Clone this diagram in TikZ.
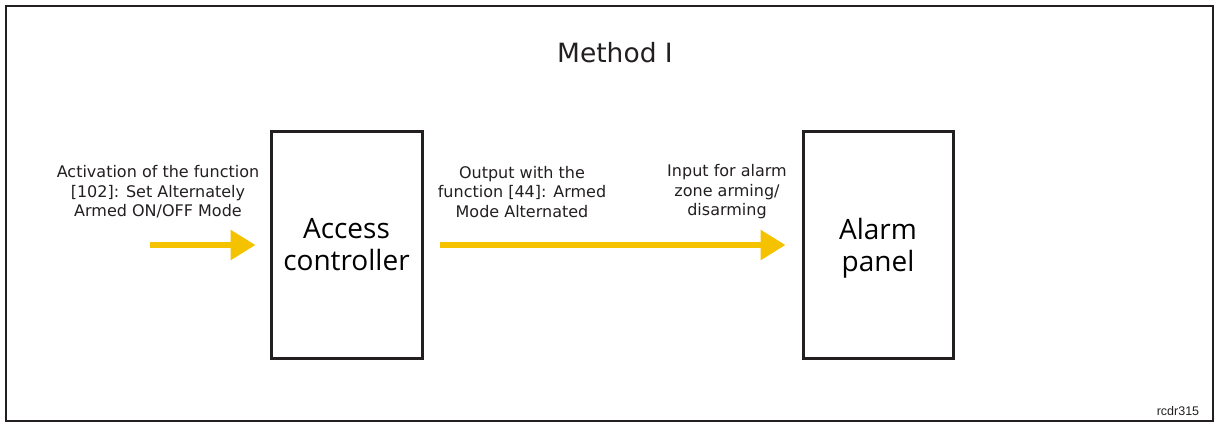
\documentclass[tikz,border=0pt]{standalone}
\usepackage{fontspec}
\setmainfont{DejaVu Sans}
\newfontfamily\boxfont{Open Sans}
\newfontfamily\tagfont{Liberation Sans}
\usetikzlibrary{arrows.meta}
\definecolor{arrowyellow}{HTML}{F5C200}
\definecolor{framegray}{HTML}{231F20}
\tikzset{
  blockbox/.style={draw=framegray, line width=3pt, minimum width=151pt, minimum height=227pt, inner sep=0pt, align=center, font=\boxfont\fontsize{28}{32}\selectfont},
  flowarrow/.style={draw=arrowyellow, line width=6pt, -{Triangle[length=25pt,width=29pt]}},
  flowlabel/.style={align=center, inner sep=0pt, text=framegray, font=\fontsize{16}{19.5}\selectfont},
}
\begin{document}
\begin{tikzpicture}[x=1pt,y=-1pt]
\useasboundingbox (0,0) rectangle (1215,423);
\draw[framegray, line width=1.5pt] (6,6) rectangle (1213,421);
\node[font=\fontsize{26.5}{30}\selectfont, text=framegray] (title) at (615,53) {Method I};
\node[blockbox] (ac) at (346.5,244.5) {Access\\controller};
\node[blockbox, minimum width=150pt] (ap) at (878,244.5) {Alarm\\\raisebox{0pt}[\height][0pt]{panel}};
\coordinate (in) at (150,245);
\draw[flowarrow, shorten >=14pt] (in) -- (in -| ac.west);
\draw[flowarrow, shorten <=16pt, shorten >=16pt] (ac.east |- in) -- (ap.west |- in);
\node[flowlabel] (l1) at (158,192) {Activation of the function\\{[102]}: Set Alternately\\Armed ON/OFF Mode};
\node[flowlabel] (l2) at (522,192) {Output with the\\function [44]: Armed\\Mode Alternated};
\node[flowlabel] (l3) at (727,192) {Input for alarm\\zone arming/\\disarming};
\node[font=\tagfont\fontsize{12.5}{14}\selectfont, text=framegray] (tag) at (1178,411) {rcdr315};
\end{tikzpicture}
\end{document}
